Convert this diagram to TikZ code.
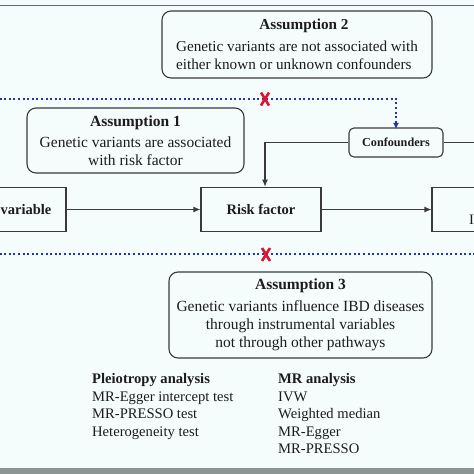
\documentclass[tikz,border=0pt]{standalone}
\usepackage{fontspec}
\setmainfont{Liberation Serif}
\usetikzlibrary{arrows.meta}
\definecolor{bg}{HTML}{F5FCFC}
\definecolor{boxc}{HTML}{3A3A3A}
\definecolor{txt}{HTML}{1C1C1C}
\definecolor{dotblue}{HTML}{2233B8}
\definecolor{tipblue}{HTML}{3355E0}
\definecolor{xred}{HTML}{E0142E}
\definecolor{topgray}{HTML}{5F6878}
\definecolor{botgray}{HTML}{8C9494}
\newlength\atwowd
\tikzset{
  abox/.style={draw=boxc, line width=1.1pt, rounded corners=9pt, text=txt, inner sep=0pt,
    font=\fontsize{15.5}{18}\selectfont},
  rbox/.style={draw=boxc, line width=1.1pt, text=txt, inner sep=0pt,
    font=\fontsize{14.5}{17}\selectfont\bfseries},
  cbox/.style={draw=boxc, line width=1.1pt, rounded corners=5pt, text=txt, inner sep=0pt,
    font=\fontsize{12.2}{14}\selectfont\bfseries},
  listtxt/.style={text=txt, inner sep=0pt, anchor=north west, align=left,
    font=\fontsize{14.6}{17.4}\selectfont},
  arr/.style={draw=boxc, line width=1.1pt, -{Latex[length=7pt,width=6pt]}},
  plain/.style={draw=boxc, line width=1.1pt},
  bdot/.style={draw=dotblue, line width=2pt, dash pattern=on 2pt off 2.6pt},
  btip/.style={-{Latex[length=6pt,width=6pt,fill=tipblue]}},
  redx/.pic={\draw[xred, line width=2.6pt] (-4,-6.5) -- (4,6.5) (4,-6.5) -- (-4,6.5);}
}
\begin{document}
\begin{tikzpicture}[x=1pt,y=-1pt]
\useasboundingbox (0,0) rectangle (474,474);
\clip (0,0) rectangle (474,474);
\fill[bg] (0,0) rectangle (474,474);
\fill[topgray] (0,4.6) rectangle (474,6.4);
\fill[botgray] (0,467.7) rectangle (474,474);

% Assumption 2
\node[abox, minimum width=270pt, minimum height=67pt, align=left,
  font=\fontsize{15.2}{18}\selectfont]
  (a2) at (297,44.5)
  {\settowidth{\atwowd}{Genetic variants are not associated with}%
   \makebox[\atwowd][c]{\hspace*{14pt}\textbf{Assumption 2}}\\[3.5pt]
   Genetic variants are not associated with\\
   either known or unknown confounders};

% Assumption 1
\node[abox, minimum width=217pt, minimum height=65pt, align=center]
  (a1) at (135.5,140.5)
  {\textbf{Assumption 1}\\[3pt]
   Genetic variants are associated\\
   with risk factor};

% Confounders
\node[cbox, minimum width=94pt, minimum height=29pt] (conf) at (396,142.5) {Confounders};

% row boxes
\node[rbox, minimum width=165pt, minimum height=44.5pt] (iv) at (-16.5,209.5) {Instrumental variable};
\node[rbox, minimum width=120pt, minimum height=44.5pt] (risk) at (261,209.5) {Risk factor};
\node[rbox, minimum width=120pt, minimum height=44.5pt, text width=84pt, inner xsep=0pt, align=left,
  font=\fontsize{14.5}{20}\selectfont] (out) at (492,209.5)
  {\hspace*{25pt}\textbf{Outcome}\\ \hspace*{19pt}IBD};

% Assumption 3
\node[abox, minimum width=263pt, minimum height=86pt, align=center]
  (a3) at (300.5,315)
  {\textbf{Assumption 3}\\[3.5pt]
   Genetic variants influence IBD diseases\\
   through instrumental variables\\
   not through other pathways};

% lists
\node[listtxt] (pleio) at (92,373.5)
  {\textbf{Pleiotropy analysis}\\
   MR-Egger intercept test\\
   MR-PRESSO test\\
   Heterogeneity test};
\node[listtxt] (mr) at (278,373.5)
  {\textbf{MR analysis}\\
   IVW\\
   Weighted median\\
   MR-Egger\\
   MR-PRESSO};

% connectors
\draw[arr] (iv) -- (risk);
\draw[arr] (risk) -- (out);
\draw[arr] (conf.west) -| ([xshift=4pt]risk.north);
\coordinate (cr) at (480,142.5);
\draw[plain] (conf.east) -- (cr);

% dotted lines
\coordinate (d1) at (-5,98.5);
\draw[bdot, btip] (d1) -- (d1 -| conf.north) -- ([yshift=-1.5pt]conf.north);
\coordinate (d2a) at (-5,254.3);
\coordinate (d2b) at (480,254.3);
\draw[bdot] (d2a) -- (d2b);
\pic at (265,99) {redx};
\pic at (266,254.5) {redx};
\end{tikzpicture}
\end{document}
